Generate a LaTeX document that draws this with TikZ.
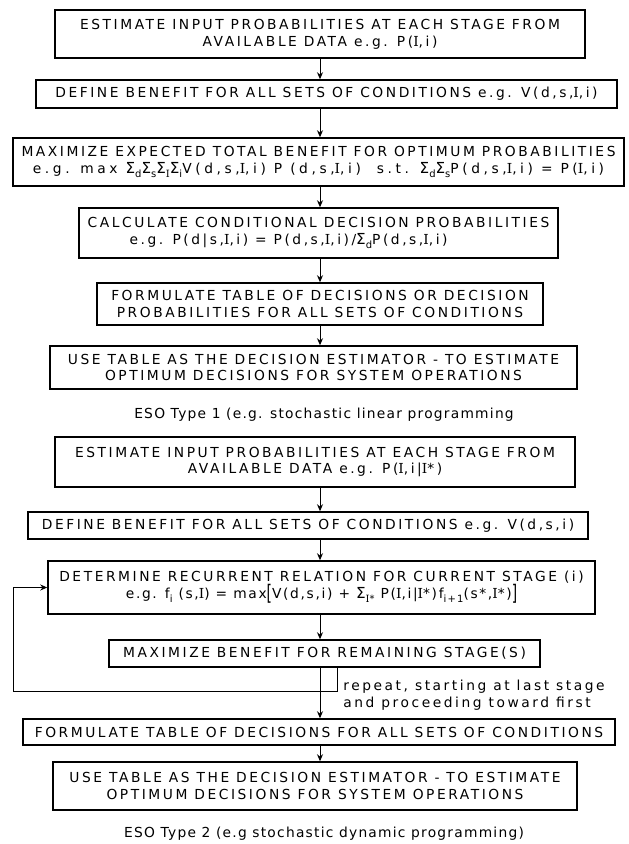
\documentclass[tikz,border=0pt]{standalone}
\usepackage{fontspec}
\usepackage{graphicx}
\usetikzlibrary{arrows.meta}
\newfontfamily\lett{DejaVu Sans}[LetterSpace=18.5]
\newfontfamily\lettw{DejaVu Sans}[LetterSpace=26]
\newfontfamily\lettn{DejaVu Sans}[LetterSpace=12]
\newfontfamily\lettc{DejaVu Sans}[LetterSpace=9]
\newfontfamily\lettI{DejaVu Serif}[LetterSpace=18]
\newcommand\II{{\lettI I}}
\newcommand\sbs[1]{\raisebox{-0.45ex}{\fontsize{5}{5}\selectfont #1}}
\newcommand\Sg[1]{{\fontsize{7.6}{8}\selectfont Σ}\sbs{#1}}
\newcommand\bigbr[1]{\raisebox{-0.3ex}{\scalebox{1}[1.55]{#1}}}
\newcommand\flowbox[7][]{\node[boxs, minimum width={(#4-#3)*0.5pt}, minimum height={(#6-#5)*0.5pt}, #1] (#2) at ({(#3+#4)/2},{(#5+#6)/2}) {#7};}
\tikzset{
  every node/.style={font=\lett\fontsize{6.9}{8.4}\selectfont, text=black},
  boxs/.style={draw, line width=0.75pt, inner sep=0pt, align=center},
  arr/.style={line width=0.5pt, -{Stealth[length=3.5pt,width=3pt]}},
  capt/.style={inner sep=0pt, font=\lettc\fontsize{6.9}{8.4}\selectfont},
  note/.style={inner sep=0pt, align=left},
}
\begin{document}
\begin{tikzpicture}[x=0.5pt, y=-0.5pt]
\fill[white] (0,0) rectangle (628,844);
\useasboundingbox (0,0) rectangle (628,844);
\coordinate (ax) at (320,0);
% ESO Type 1
\flowbox{b1}{55}{585}{10}{58}{ESTIMATE INPUT PROBABILITIES AT EACH STAGE FROM\\AVAILABLE DATA e.g. P(\II,i)}
\flowbox{b2}{36}{617}{80}{108}{DEFINE BENEFIT FOR ALL SETS OF CONDITIONS e.g. V(d,s,\II,i)}
\flowbox{b3}{13}{624}{138}{186}{MAXIMIZE EXPECTED TOTAL BENEFIT FOR OPTIMUM PROBABILITIES\\{\lettw e.g. max \Sg{d}\Sg{s}\Sg{\II}\Sg{i}V(d,s,\II,i) P (d,s,\II,i)\ \ s.t. \Sg{d}\Sg{s}P(d,s,\II,i) = P(\II,i)}}
\flowbox[align=left]{b4}{79}{558}{208}{258}{CALCULATE CONDITIONAL DECISION PROBABILITIES\\\hspace*{21pt}e.g. P(d|s,\II,i) = P(d,s,\II,i)/\Sg{d}P(d,s,\II,i)}
\flowbox{b5}{97}{543}{283}{325}{FORMULATE TABLE OF DECISIONS OR DECISION\\PROBABILITIES FOR ALL SETS OF CONDITIONS}
\flowbox{b6}{50}{577}{346}{389}{USE TABLE AS THE DECISION ESTIMATOR - TO ESTIMATE\\OPTIMUM DECISIONS FOR SYSTEM OPERATIONS}
\node[capt] (c1) at (324,415) {ESO Type 1 (e.g. stochastic linear programming};
% ESO Type 2
\flowbox{b7}{55}{575}{437}{487}{ESTIMATE INPUT PROBABILITIES AT EACH STAGE FROM\\AVAILABLE DATA e.g. P(\II,i|\II*)}
\flowbox{b8}{28}{588}{512}{539}{DEFINE BENEFIT FOR ALL SETS OF CONDITIONS e.g. V(d,s,i)}
\flowbox{b9}{48}{595}{561}{614}{DETERMINE RECURRENT RELATION FOR CURRENT STAGE (i)\\{\lettn e.g. f\sbs{i} (s,\II) = max\bigbr{[}V(d,s,i) + \Sg{\II*} P(\II,i|\II*)f\sbs{i+1}(s*,\II*)\bigbr{]}}}
\flowbox{b10}{109}{540}{640}{667}{MAXIMIZE BENEFIT FOR REMAINING STAGE(S)}
\flowbox{b11}{23}{615}{719}{745}{FORMULATE TABLE OF DECISIONS FOR ALL SETS OF CONDITIONS}
\flowbox{b12}{53}{577}{762}{810}{USE TABLE AS THE DECISION ESTIMATOR - TO ESTIMATE\\OPTIMUM DECISIONS FOR SYSTEM OPERATIONS}
\node[note, anchor=west] (rep) at (343,695) {repeat, starting at last stage\\and proceeding toward first};
\node[capt] (c2) at (324,834) {ESO Type 2 (e.g stochastic dynamic programming)};
% connectors
\foreach \a/\b in {b1/b2,b2/b3,b3/b4,b4/b5,b5/b6,b7/b8,b8/b9,b9/b10,b10/b11,b11/b12}
  \draw[arr] (\a.south -| ax) -- (\b.north -| ax);
\coordinate (lp) at (337,691);
\coordinate (lc) at (13,691);
\draw[arr] (b10.south -| lp) -- (lp) -- (lc) |- (b9.west);
\end{tikzpicture}
\end{document}
